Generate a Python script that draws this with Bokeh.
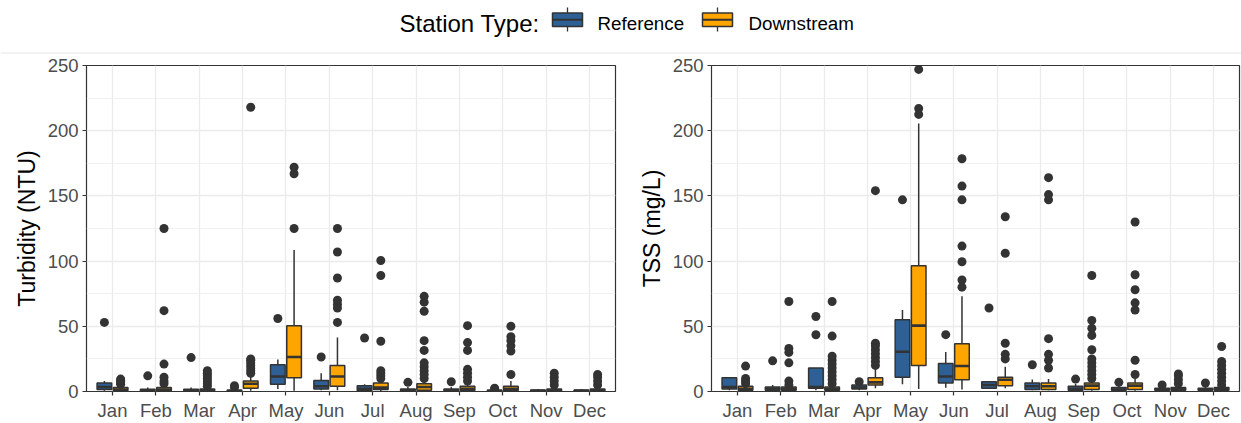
import numpy as np
from bokeh.plotting import figure
from bokeh.layouts import column, row
from bokeh.models import Range1d, FixedTicker, ColumnDataSource
from bokeh.embed import file_html
from bokeh.resources import INLINE
from bokeh.core.properties import value

FONT = "Liberation Sans"

months = ["Jan", "Feb", "Mar", "Apr", "May", "Jun",
          "Jul", "Aug", "Sep", "Oct", "Nov", "Dec"]
station_types = ["Reference", "Downstream"]
station_colors = ["#2E6096", "#FFA500"]
y_ticks = [0, 50, 100, 150, 200, 250]
y_minor = [25, 75, 125, 175, 225]

# ---------------- Turbidity (NTU) ----------------
turb_ref_lo = [0.5, 0.2, 0.2, 0.1, 2.0, 1.0, 0.2, 0.2, 0.2, 0.1, 0.1, 0.1]
turb_ref_q1 = [1.5, 0.5, 0.5, 0.3, 5.5, 2.0, 0.6, 0.5, 0.5, 0.3, 0.3, 0.3]
turb_ref_med = [3.5, 1.0, 1.0, 0.6, 11.5, 4.0, 2.0, 1.0, 1.0, 0.6, 0.6, 0.6]
turb_ref_q3 = [6.5, 1.8, 1.8, 1.0, 20.5, 8.5, 4.5, 2.0, 2.0, 1.0, 1.2, 1.2]
turb_ref_hi = [8.0, 3.0, 3.0, 2.0, 24.5, 14.0, 5.5, 3.5, 3.5, 1.5, 2.0, 2.0]
turb_ref_out = [[53], [12], [26], [3, 4.5], [56], [26.5], [41], [7], [7.5],
                [2, 2.5], [], []]

turb_down_lo = [0.2, 0.2, 0.2, 0.5, 0.5, 1.0, 0.2, 0.2, 0.2, 0.2, 0.1, 0.1]
turb_down_q1 = [0.8, 0.8, 0.5, 2.5, 10.5, 4.0, 1.5, 1.0, 0.8, 0.8, 0.4, 0.4]
turb_down_med = [1.5, 1.5, 1.0, 6.0, 26.5, 11.5, 3.0, 3.5, 2.0, 2.0, 1.0, 1.0]
turb_down_q3 = [3.0, 3.0, 2.0, 8.0, 50.5, 20.0, 6.5, 6.0, 4.0, 4.0, 2.0, 2.0]
turb_down_hi = [4.5, 5.0, 3.5, 12.0, 108.5, 41.5, 8.5, 8.5, 6.5, 8.0, 3.5, 3.5]
turb_down_out = [[5.5, 6.5, 7.5, 8.5, 9.5],
                 [6, 8, 11, 21, 62, 125],
                 [4, 6, 8, 10, 12, 14, 16],
                 [14, 16, 18, 20, 22, 24, 25, 218],
                 [125, 167, 172],
                 [53, 64, 67, 70, 87, 107, 125],
                 [10, 12, 14, 16, 38.5, 89, 100.5],
                 [10, 13, 16, 19, 22, 31.5, 39, 61.5, 68.5, 73],
                 [8, 11, 14, 17, 31.5, 37.5, 50.5],
                 [13, 31, 35, 39, 42, 50],
                 [5, 8, 11, 14],
                 [5, 8, 11, 13]]

# ---------------- TSS (mg/L) ----------------
tss_ref_lo = [1.0, 0.5, 1.0, 1.0, 5.5, 2.8, 2.0, 1.0, 0.5, 0.5, 0.5, 0.5]
tss_ref_q1 = [2.0, 1.0, 2.5, 2.0, 11.0, 6.6, 2.5, 1.5, 1.0, 1.0, 1.0, 1.0]
tss_ref_med = [3.5, 2.0, 3.5, 3.0, 30.5, 11.5, 5.0, 4.0, 2.0, 1.5, 1.5, 1.5]
tss_ref_q3 = [10.5, 3.5, 18.0, 5.0, 55.0, 21.4, 7.5, 6.6, 4.0, 3.0, 2.5, 2.5]
tss_ref_hi = [10.5, 5.0, 18.0, 6.0, 62.5, 30.3, 8.0, 9.2, 6.0, 4.5, 3.5, 3.5]
tss_ref_out = [[], [23.5], [43.5, 57.5], [7.5], [147], [43.6], [64], [20.5],
               [9.5], [7], [5], [6.5]]

tss_down_lo = [0.5, 0.5, 0.5, 2.5, 2.0, 1.5, 2.5, 1.0, 0.5, 0.5, 0.5, 0.5]
tss_down_q1 = [1.0, 1.0, 1.0, 5.0, 20.0, 9.0, 4.5, 1.5, 1.5, 1.5, 1.0, 1.0]
tss_down_med = [2.0, 2.0, 2.0, 7.0, 50.5, 19.5, 9.0, 4.0, 4.5, 4.5, 2.0, 2.0]
tss_down_q3 = [4.0, 3.5, 3.5, 10.5, 96.5, 36.7, 11.0, 6.6, 6.6, 6.6, 3.0, 3.0]
tss_down_hi = [5.0, 4.5, 5.0, 18.0, 205.5, 73.0, 19.0, 9.5, 9.0, 9.5, 4.0, 4.0]
tss_down_out = [[6, 8, 10, 19.5],
                [5, 8, 22, 30, 33, 69],
                [6, 9, 12, 15, 18, 21, 24, 27, 42.5, 69],
                [20, 23, 26, 29, 32, 35, 37, 154],
                [212.5, 217, 247],
                [80, 85.5, 99.5, 111.5, 147, 157.5, 178.5],
                [25, 28.5, 37, 106, 134],
                [18, 24, 28.5, 40.5, 147, 151, 164],
                [10, 13, 16, 19, 22, 25, 32, 43, 48.5, 54.5, 89],
                [13, 24, 62.5, 68, 78, 89.5, 130],
                [6, 9, 12, 13.5],
                [5, 8, 11, 14, 17, 20, 23, 34.5]]

DARK = "#333333"
GRID = "#EBEBEB"
DODGE = 0.375      # slot width per station type
BOX_W = DODGE * 0.9


def add_boxes(p, offset, color, lo, q1, med, q3, hi, out):
    xs = np.arange(1, len(months) + 1) + offset
    src = ColumnDataSource(dict(x=xs, xl=xs - BOX_W / 2, xr=xs + BOX_W / 2,
                                lo=lo, q1=q1, med=med, q3=q3, hi=hi))
    p.segment(x0="x", y0="q3", x1="x", y1="hi", source=src,
              line_color=DARK, line_width=1.5)
    p.segment(x0="x", y0="q1", x1="x", y1="lo", source=src,
              line_color=DARK, line_width=1.5)
    p.vbar(x="x", width=BOX_W, bottom="q1", top="q3", source=src,
           fill_color=color, line_color=DARK, line_width=1.5)
    p.segment(x0="xl", y0="med", x1="xr", y1="med", source=src,
              line_color=DARK, line_width=2.6)
    ox = [x for x, vals in zip(xs, out) for _ in vals]
    oy = [v for vals in out for v in vals]
    p.scatter(x=ox, y=oy, size=9, fill_color=DARK, line_color=None)


def make_panel(ylabel, ref, down, width, b_left, b_right):
    p = figure(width=width, height=368, x_range=Range1d(0.4, 12.6),
               y_range=Range1d(0, 250), output_backend="svg",
               toolbar_location=None, min_border_left=b_left,
               min_border_right=b_right, min_border_top=10,
               min_border_bottom=31, background_fill_color="white",
               border_fill_color="white")
    p.xaxis.ticker = FixedTicker(ticks=list(range(1, len(months) + 1)))
    p.xaxis.major_label_overrides = {i + 1: m for i, m in enumerate(months)}
    p.yaxis.ticker = FixedTicker(ticks=y_ticks, minor_ticks=y_minor)
    p.axis.axis_line_color = None
    p.axis.major_tick_line_color = DARK
    p.axis.major_tick_line_width = 1.2
    p.axis.major_tick_out = 4
    p.axis.major_tick_in = 0
    p.axis.minor_tick_line_color = None
    p.axis.major_label_text_font = FONT
    p.axis.major_label_text_font_size = "18.5px"
    p.axis.major_label_text_color = "#4D4D4D"
    p.axis.major_label_standoff = 4
    p.yaxis.axis_label = ylabel
    p.yaxis.axis_label_text_font = FONT
    p.yaxis.axis_label_text_font_size = "23px"
    p.yaxis.axis_label_text_font_style = "normal"
    p.yaxis.axis_label_text_color = "black"
    p.yaxis.axis_label_standoff = 5
    p.xgrid.grid_line_color = GRID
    p.xgrid.grid_line_width = 1.3
    p.ygrid.grid_line_color = GRID
    p.ygrid.grid_line_width = 1.3
    p.ygrid.minor_grid_line_color = GRID
    p.ygrid.minor_grid_line_width = 0.7
    p.outline_line_color = DARK
    p.outline_line_width = 1.2
    add_boxes(p, -DODGE / 2, station_colors[0], *ref)
    add_boxes(p, DODGE / 2, station_colors[1], *down)
    return p


p1 = make_panel("Turbidity (NTU)",
                (turb_ref_lo, turb_ref_q1, turb_ref_med, turb_ref_q3, turb_ref_hi, turb_ref_out),
                (turb_down_lo, turb_down_q1, turb_down_med, turb_down_q3, turb_down_hi, turb_down_out),
                620, 86, 5)
p2 = make_panel("TSS (mg/L)",
                (tss_ref_lo, tss_ref_q1, tss_ref_med, tss_ref_q3, tss_ref_hi, tss_ref_out),
                (tss_down_lo, tss_down_q1, tss_down_med, tss_down_q3, tss_down_hi, tss_down_out),
                621, 91, 2)

# ---------------- legend strip ----------------
LH = 55
leg = figure(width=1241, height=LH, x_range=Range1d(0, 1241), y_range=Range1d(0, LH),
             output_backend="svg", toolbar_location=None, x_axis_type=None,
             y_axis_type=None, min_border=0, outline_line_color=None,
             background_fill_color="white", border_fill_color="white")
leg.grid.visible = False
leg.segment(x0=[0], y0=[2.5], x1=[1241], y1=[2.5], line_color="#E6E6E6", line_width=1)
leg.text(x=[399], y=[32], text=["Station Type:"], text_font=value(FONT),
         text_font_size="24px", text_baseline="middle", text_color="black")
key_left = [552, 702]
label_x = [597, 748]
for kx, lx, name, col in zip(key_left, label_x, station_types, station_colors):
    cx = kx + 15
    leg.segment(x0=[cx], y0=[24], x1=[cx], y1=[48], line_color=DARK, line_width=1.3)
    leg.quad(left=[kx], right=[kx + 30], bottom=[29], top=[42.5],
             fill_color=col, line_color=DARK, line_width=1.5)
    leg.segment(x0=[kx], y0=[35.7], x1=[kx + 30], y1=[35.7], line_color=DARK, line_width=2)
    leg.text(x=[lx], y=[32], text=[name], text_font=value(FONT),
             text_font_size="18.8px", text_baseline="middle", text_color="black")

layout = column(leg, row(p1, p2, spacing=0), spacing=0)
open("out.html", "w").write(file_html(layout, INLINE))
